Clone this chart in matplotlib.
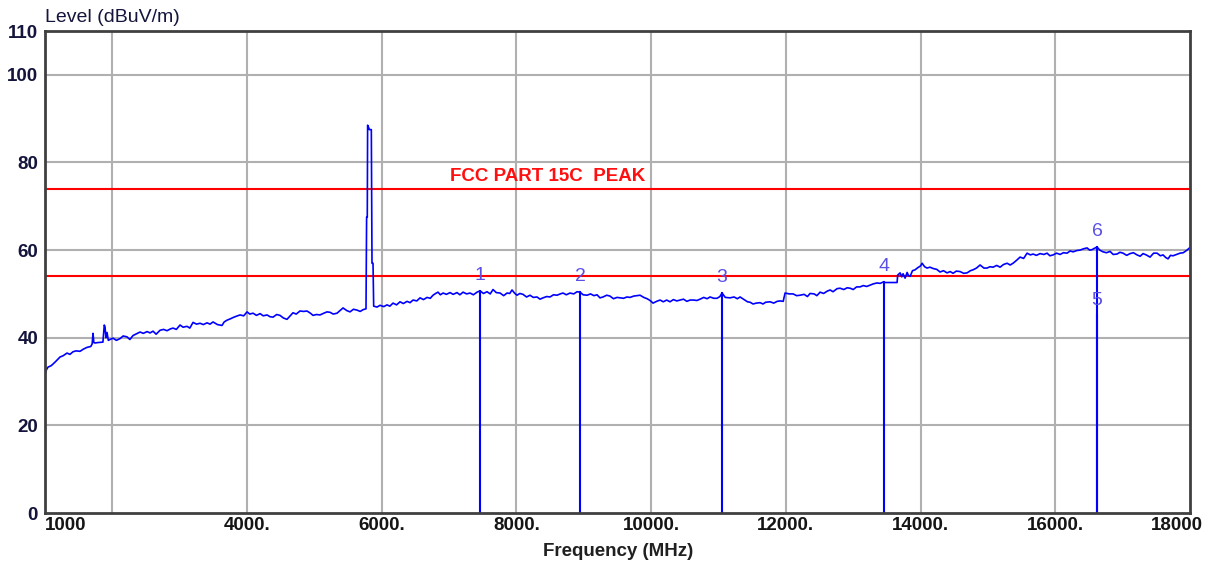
import matplotlib
matplotlib.use("Agg")
import matplotlib.pyplot as plt
import matplotlib.transforms as mtransforms
import numpy as np

# trace (MHz, dBuV/m)
freq_mhz = [
    1000, 1015, 1045, 1090, 1119, 1160, 1223, 1270, 1327, 1370,
    1416, 1460, 1520, 1570, 1624, 1680, 1700, 1713, 1725, 1742,
    1787, 1860, 1880, 1891, 1905, 1921, 1940, 1965, 2010, 2060,
    2114, 2160, 2218, 2260, 2307, 2360, 2411, 2460, 2515, 2560,
    2604, 2650, 2708, 2760, 2812, 2860, 2901, 2950, 3005, 3050,
    3109, 3150, 3198, 3250, 3302, 3350, 3406, 3450, 3495, 3560,
    3628, 3660, 3702, 3750, 3791, 3840, 3896, 3950, 4000, 4040,
    4089, 4140, 4193, 4240, 4297, 4340, 4386, 4440, 4489, 4540,
    4593, 4640, 4682, 4730, 4786, 4840, 4890, 4940, 4979, 5030,
    5083, 5140, 5187, 5232, 5280, 5336, 5380, 5425, 5480, 5529,
    5580, 5633, 5680, 5722, 5766, 5775, 5785, 5790, 5805, 5815,
    5845, 5855, 5870, 5880, 5930, 5974, 6030, 6078, 6120, 6167,
    6220, 6271, 6320, 6375, 6420, 6464, 6520, 6568, 6620, 6672,
    6720, 6761, 6800, 6835, 6870, 6910, 6960, 7013, 7060, 7117,
    7160, 7207, 7260, 7311, 7360, 7415, 7459, 7510, 7563, 7610,
    7652, 7700, 7756, 7810, 7860, 7900, 7934, 7970, 8008, 8050,
    8097, 8150, 8201, 8250, 8305, 8350, 8394, 8450, 8498, 8550,
    8602, 8650, 8691, 8740, 8795, 8850, 8900, 8944, 8990, 9048,
    9100, 9150, 9196, 9240, 9285, 9340, 9389, 9440, 9493, 9538,
    9590, 9640, 9686, 9740, 9790, 9835, 9890, 9940, 9983, 10028,
    10080, 10132, 10180, 10230, 10280, 10330, 10380, 10429, 10480, 10530,
    10577, 10630, 10680, 10726, 10780, 10830, 10874, 10930, 10978, 11020,
    11052, 11100, 11171, 11230, 11280, 11320, 11380, 11430, 11468, 11513,
    11560, 11617, 11660, 11700, 11765, 11820, 11870, 11914, 11960, 11988,
    12050, 12107, 12160, 12211, 12270, 12320, 12359, 12420, 12460, 12508,
    12560, 12610, 12656, 12700, 12760, 12804, 12860, 12910, 12953, 13000,
    13050, 13101, 13150, 13200, 13250, 13300, 13354, 13400, 13443, 13460,
    13651, 13660, 13696, 13720, 13740, 13770, 13800, 13820, 13844, 13880,
    13918, 13960, 14000, 14022, 14060, 14096, 14140, 14185, 14240, 14289,
    14340, 14393, 14440, 14482, 14530, 14586, 14640, 14690, 14740, 14779,
    14830, 14883, 14940, 14987, 15030, 15076, 15130, 15180, 15230, 15284,
    15330, 15373, 15420, 15477, 15530, 15581, 15630, 15670, 15720, 15774,
    15830, 15878, 15920, 15967, 16020, 16071, 16120, 16175, 16220, 16264,
    16320, 16368, 16420, 16472, 16510, 16546, 16580, 16620, 16660, 16709,
    16760, 16813, 16860, 16917, 16960, 17006, 17060, 17110, 17160, 17214,
    17260, 17303, 17350, 17407, 17460, 17511, 17560, 17600, 17640, 17674,
    17710, 17748, 17800, 17852, 17900, 17956, 18000,
]
level_dbuv = [
    31.5, 32.5, 33.3, 33.6, 34.0, 34.6, 35.6, 35.9, 36.5, 36.2,
    36.8, 37.0, 36.9, 37.4, 37.8, 38.0, 38.6, 41.0, 38.9, 38.8,
    38.9, 39.0, 42.9, 42.5, 40.0, 41.2, 39.4, 39.6, 39.9, 39.4,
    39.8, 40.4, 40.2, 39.6, 40.5, 40.9, 41.3, 41.0, 41.4, 41.1,
    41.5, 40.8, 41.7, 41.9, 41.6, 42.0, 42.2, 41.9, 42.9, 42.4,
    42.6, 42.2, 43.5, 43.1, 43.3, 43.0, 43.4, 43.1, 43.6, 43.0,
    42.8, 43.6, 44.0, 44.3, 44.6, 44.9, 45.2, 45.0, 45.9, 45.4,
    45.6, 45.1, 45.5, 45.0, 45.2, 44.8, 44.7, 45.3, 45.1, 44.5,
    44.2, 45.0, 45.7, 45.4, 46.1, 46.0, 46.1, 45.6, 45.1, 45.3,
    45.2, 45.6, 45.9, 45.8, 45.4, 45.6, 46.2, 46.8, 46.2, 45.9,
    46.5, 46.3, 46.0, 46.4, 46.6, 67.5, 67.5, 88.5, 88.0, 87.5,
    87.5, 57.0, 57.0, 47.2, 47.0, 47.4, 47.1, 47.5, 47.2, 47.9,
    47.5, 48.2, 47.8, 48.3, 48.0, 48.6, 48.4, 49.1, 48.7, 49.2,
    49.0, 49.7, 50.1, 50.4, 49.8, 50.2, 49.9, 50.3, 49.9, 50.3,
    49.8, 50.4, 50.0, 50.2, 49.8, 50.4, 50.7, 50.1, 50.5, 50.0,
    51.0, 50.3, 50.2, 49.6, 50.2, 50.1, 50.9, 50.2, 49.7, 50.1,
    49.9, 49.3, 49.7, 49.2, 49.3, 48.8, 49.1, 49.4, 49.3, 49.8,
    49.7, 50.0, 50.2, 49.8, 50.2, 50.0, 50.5, 50.4, 49.8, 49.7,
    50.0, 49.6, 49.8, 49.1, 49.3, 49.7, 49.5, 48.9, 49.2, 49.1,
    49.0, 49.3, 49.2, 49.5, 49.6, 49.7, 49.2, 48.9, 48.5, 47.9,
    48.3, 48.6, 48.2, 48.6, 48.2, 48.7, 48.4, 48.6, 48.8, 48.3,
    48.6, 48.6, 48.5, 48.8, 49.2, 48.9, 49.3, 49.0, 49.0, 49.4,
    50.2, 49.2, 49.1, 49.3, 48.9, 49.3, 48.7, 48.2, 48.1, 47.7,
    47.9, 48.0, 47.7, 48.1, 48.2, 47.9, 48.3, 48.4, 48.3, 50.2,
    50.0, 50.0, 49.6, 49.7, 49.9, 49.4, 50.1, 50.0, 49.6, 50.4,
    50.1, 50.6, 50.9, 50.5, 51.2, 51.3, 51.0, 51.4, 51.3, 51.0,
    51.6, 51.6, 51.9, 51.7, 52.0, 52.3, 52.5, 52.4, 52.7, 52.6,
    52.6, 54.3, 54.8, 53.9, 54.6, 53.6, 54.9, 54.2, 54.0, 55.3,
    55.5, 56.0, 56.4, 57.0, 56.2, 55.9, 56.1, 55.8, 55.6, 55.0,
    55.3, 54.8, 55.1, 54.7, 55.2, 55.1, 54.7, 54.8, 55.3, 55.5,
    55.9, 56.6, 55.9, 55.9, 56.2, 56.1, 56.5, 56.1, 56.7, 57.0,
    56.6, 57.0, 57.6, 58.4, 58.1, 59.3, 58.9, 59.1, 58.8, 59.2,
    59.0, 59.3, 58.7, 58.9, 59.3, 59.0, 59.4, 59.3, 59.8, 59.6,
    59.9, 60.0, 60.3, 60.5, 60.0, 60.1, 60.4, 60.7, 60.0, 59.6,
    59.4, 59.7, 59.0, 59.1, 59.5, 59.3, 58.8, 59.2, 59.4, 58.9,
    58.6, 59.2, 58.9, 58.4, 59.3, 59.3, 58.7, 58.9, 58.3, 58.0,
    58.8, 58.7, 59.0, 59.3, 59.4, 60.0, 60.6,
]

# markers
marker_ids = ["1", "2", "3", "4", "5", "6"]
marker_freq = [7459, 8944, 11052, 13457, 16620, 16620]
marker_level = [50.7, 50.4, 50.2, 52.7, 45.1, 60.7]

# limit lines
limit_levels = [74, 54]
limit_text = "FCC PART 15C  PEAK"

x_ticks = [1000, 4000, 6000, 8000, 10000, 12000, 14000, 16000, 18000]
x_ticklabels = ["1000", "4000.", "6000.", "8000.", "10000.", "12000.", "14000.", "16000.", "18000"]
x_grid = [2000, 4000, 6000, 8000, 10000, 12000, 14000, 16000]
y_ticks = [0, 20, 40, 60, 80, 100, 110]
y_grid = [20, 40, 60, 80, 100]

plt.rcParams['font.family'] = ['Liberation Sans', 'DejaVu Sans']

W, H = 1216, 565
fig = plt.figure(figsize=(W / 100, H / 100), dpi=100)
ax = fig.add_axes([45 / W, 1 - 513 / H, (1190 - 45) / W, (513 - 31) / H])
ax.set_xlim(1000, 18000)
ax.set_ylim(0, 110)

for g in x_grid:
    ax.axvline(g, color='#b0b0b0', lw=1.5, zorder=1)
for g in y_grid:
    ax.axhline(g, color='#b0b0b0', lw=1.5, zorder=1)

for lv in limit_levels:
    ax.axhline(lv, color='#ff0000', lw=1.5, zorder=2)
ax.text(7013, limit_levels[0] + 2.9, limit_text, color='#ff1010', fontsize=13.5,
        fontweight='bold', ha='left', va='center', zorder=3)

ax.plot(freq_mhz, level_dbuv, color='#0000ff', lw=1.2, zorder=4)

for mid, f, lv in zip(marker_ids, marker_freq, marker_level):
    ax.plot([f, f], [0, lv], color='#0000ff', lw=1.5, zorder=4)
    ax.text(f, lv + 3.5, mid, color='#5a50e6', fontsize=14, ha='center', va='center', zorder=5)

ax.set_xticks(x_ticks)
ax.set_xticklabels([])
ax.set_yticks(y_ticks)
ax.set_yticklabels([str(v) for v in y_ticks], fontsize=13.5, fontweight='bold', color='#14143c')
ax.tick_params(axis='both', length=0)
ax.tick_params(axis='y', pad=5)

# x labels drawn by hand: first is left-aligned, last sits a bit left of the edge
base = mtransforms.blended_transform_factory(ax.transData, ax.transAxes)
for xv, lab in zip(x_ticks, x_ticklabels):
    ha = 'center'
    dx = 0
    if lab == x_ticklabels[0]:
        ha = 'left'
    if lab == x_ticklabels[-1]:
        dx = -13
    tr = mtransforms.offset_copy(base, fig=fig, x=dx, y=-4, units='dots')
    ax.text(xv, 0, lab, transform=tr, ha=ha, va='top', fontsize=13.5,
            fontweight='bold', color='#151515')

for s in ax.spines.values():
    s.set_color('#404040')
    s.set_linewidth(2)
    s.set_zorder(6)

fig.text(45 / W, 1 - 18 / H, "Level (dBuV/m)", fontsize=14, color='#14143c',
         ha='left', va='center')
fig.text(618 / W, 1 - 551 / H, "Frequency (MHz)", fontsize=13.5, fontweight='bold',
         color='#202020', ha='center', va='center')

fig.savefig("out.png", dpi=100, facecolor='white')
